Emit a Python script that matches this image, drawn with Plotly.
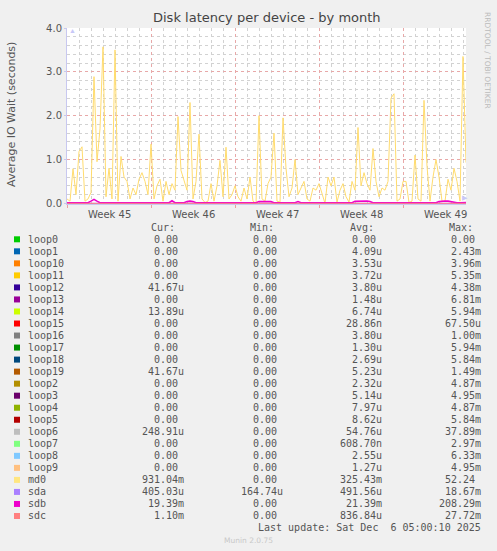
import pandas as pd
import plotly.graph_objects as go

## Munin "diskstats latency" month graph

# md0 and sdb, one reading every 6 hours from 2025-11-03 00:00
start = "2025-11-03 00:00"
md0 = [
    0.10, 0.05, 0.79, 0.20, 1.18, 1.29, 0.05, 0.10, 0.25, 2.89, 0.95, 1.70,
    3.57, 0.15, 0.80, 0.10, 3.50, 0.05, 1.07, 0.60, 0.50, 0.10, 0.35, 0.20,
    0.55, 0.70, 0.50, 0.20, 1.35, 0.10, 0.40, 0.55, 0.05, 0.50, 0.20, 0.45,
    0.30, 1.98, 0.75, 0.50, 0.30, 2.30, 0.10, 0.50, 1.58, 0.10, 0.02, 0.05,
    0.45, 0.05, 0.40, 0.98, 0.15, 1.28, 0.10, 0.20, 0.40, 0.15, 0.05, 0.35,
    0.10, 0.60, 0.05, 0.00, 2.00, 0.10, 0.05, 0.45, 0.60, 1.60, 0.05, 0.03,
    1.95, 0.80, 0.15, 0.35, 1.00, 0.20, 0.35, 0.50, 0.10, 0.05, 0.35, 0.30,
    0.45, 0.20, 0.00, 0.60, 0.40, 0.60, 0.03, 0.30, 0.45, 0.15, 0.03, 0.50,
    0.30, 1.73, 0.40, 0.70, 0.45, 0.30, 1.25, 0.50, 0.15, 0.35, 0.30, 0.50,
    2.40, 2.50, 0.05, 0.10, 0.50, 0.50, 0.02, 0.05, 1.10, 0.10, 0.05, 2.35,
    0.85, 0.05, 0.60, 1.00, 0.60, 0.05, 0.05, 0.55, 0.30, 0.80, 0.50, 0.05,
    3.35, 0.93,
]
sdb = [
    .015, .015, .015, .030, .015, .015, .015, .015, .050, .090, .050, .015,
    .015, .015, .015, .015, .015, .030, .015, .015, .030, .015, .015, .015,
    .015, .015, .015, .015, .015, .015, .015, .015, .015, .015, .015, .060,
    .015, .015, .015, .015, .040, .050, .040, .015, .015, .015, .015, .015,
    .015, .015, .015, .015, .015, .015, .015, .015, .015, .015, .015, .015,
    .030, .015, .015, .015, .040, .040, .035, .040, .040, .015, .015, .015,
    .030, .015, .015, .015, .015, .040, .015, .015, .015, .015, .015, .015,
    .015, .015, .015, .015, .015, .030, .015, .015, .030, .015, .015, .015,
    .045, .050, .050, .050, .055, .040, .015, .015, .015, .030, .015, .015,
    .015, .015, .015, .015, .015, .015, .015, .015, .015, .015, .015, .015,
    .015, .015, .015, .015, .040, .050, .055, .050, .040, .015, .015, .015,
    .015, .019,
]

# sda / sdc stay flat near zero, read once per week
week_dates = ["2025-11-03 00:00", "2025-11-10 00:00", "2025-11-17 00:00",
              "2025-11-24 00:00", "2025-12-01 00:00", "2025-12-06 06:00"]
sda = [0.0005, 0.0005, 0.0005, 0.0005, 0.0005, 0.0004]
sdc = [0.0008, 0.0008, 0.0009, 0.0008, 0.0008, 0.0011]

week_starts = ["2025-11-03", "2025-11-10", "2025-11-17", "2025-11-24", "2025-12-01"]
week_labels = ["Week 45", "Week 46", "Week 47", "Week 48", "Week 49"]

# legend table
names = ["loop0", "loop1", "loop10", "loop11", "loop12", "loop13", "loop14", "loop15",
         "loop16", "loop17", "loop18", "loop19", "loop2", "loop3", "loop4", "loop5",
         "loop6", "loop7", "loop8", "loop9", "md0", "sda", "sdb", "sdc"]
colors = ["#00CC00", "#0066B3", "#FF8000", "#FFCC00", "#330099", "#990099", "#CCFF00", "#FF0000",
          "#808080", "#008F00", "#00487D", "#B35A00", "#B38F00", "#6B006B", "#8FB300", "#B30000",
          "#BEBEBE", "#80FF80", "#80C9FF", "#FFC080", "#FFE680", "#AA80FF", "#EE00CC", "#FF8080"]
cur = ["0.00", "0.00", "0.00", "0.00", "41.67u", "0.00", "13.89u", "0.00",
       "0.00", "0.00", "0.00", "41.67u", "0.00", "0.00", "0.00", "0.00",
       "248.91u", "0.00", "0.00", "0.00", "931.04m", "405.03u", "19.39m", "1.10m"]
mins = ["0.00", "0.00", "0.00", "0.00", "0.00", "0.00", "0.00", "0.00",
        "0.00", "0.00", "0.00", "0.00", "0.00", "0.00", "0.00", "0.00",
        "0.00", "0.00", "0.00", "0.00", "0.00", "164.74u", "0.00", "0.00"]
avgs = ["0.00", "4.09u", "3.53u", "3.72u", "3.80u", "1.48u", "6.74u", "28.86n",
        "3.80u", "1.30u", "2.69u", "5.23u", "2.32u", "5.14u", "7.97u", "8.62u",
        "54.76u", "608.70n", "2.55u", "1.27u", "325.43m", "491.56u", "21.39m", "836.84u"]
maxs = ["0.00", "2.43m", "3.96m", "5.35m", "4.38m", "6.81m", "5.94m", "67.50u",
        "1.00m", "5.94m", "5.84m", "1.49m", "4.87m", "4.95m", "4.87m", "5.84m",
        "37.89m", "2.97m", "6.33m", "4.95m", "52.24", "18.67m", "208.29m", "27.72m"]

W, H = 497, 551
L, R, T, B = 67, 31, 28, 347
PW, PH = W - L - R, H - T - B

def px(p):
    return (p - L) / PW

def py(p):
    return (T + PH - p) / PH

MONO = "DejaVu Sans Mono"
SANS = "DejaVu Sans"
TXT = "#555555"

times = pd.date_range(start, periods=len(md0), freq="6h")
wtimes = pd.to_datetime(week_dates, format="%Y-%m-%d %H:%M")

fig = go.Figure()
fig.add_trace(go.Scatter(x=times, y=md0, mode="lines", line=dict(color="#FFDC6E", width=1)))
fig.add_trace(go.Scatter(x=wtimes, y=sda, mode="lines", line=dict(color="#AA80FF", width=1)))
fig.add_trace(go.Scatter(x=times, y=sdb, mode="lines", line=dict(color="#EE00CC", width=1.6)))
fig.add_trace(go.Scatter(x=wtimes, y=sdc, mode="lines", line=dict(color="#FF8080", width=1)))

annotations = []
shapes = []

# title, y label, side credit
annotations.append(dict(text="Disk latency per device - by month", xref="paper", yref="paper",
                        x=0.5, y=py(18), xanchor="center", yanchor="middle", showarrow=False,
                        font=dict(family=SANS, size=13, color="#444444")))
annotations.append(dict(text="Average IO Wait (seconds)", xref="paper", yref="paper",
                        x=px(12), y=py(115), textangle=-90, xanchor="center", yanchor="middle",
                        showarrow=False, font=dict(family=SANS, size=11, color=TXT)))
annotations.append(dict(text="RRDTOOL / TOBI OETIKER", xref="paper", yref="paper",
                        x=px(487), y=py(60), textangle=90, xanchor="center", yanchor="middle",
                        showarrow=False, font=dict(family=SANS, size=7.5, color="#BBBBBB")))

# axis arrows
annotations.append(dict(text="▲", xref="paper", yref="paper", x=px(67), y=py(24),
                        showarrow=False, font=dict(size=7, color="#C8C8F8")))
annotations.append(dict(text="▶", xref="paper", yref="paper", x=px(470), y=py(204),
                        showarrow=False, font=dict(size=7, color="#C8C8F8")))

# week labels centred on each week
for ws, lab in zip(week_starts, week_labels):
    mid = pd.Timestamp(ws) + pd.Timedelta(hours=84)
    annotations.append(dict(text=lab, xref="x", yref="paper", x=mid, y=0, yshift=-3,
                            xanchor="center", yanchor="top", showarrow=False,
                            font=dict(family=SANS, size=10, color=TXT)))

# legend table
def cell(v):
    return v if v[-1].isalpha() else v + "\u00a0"

head_y = 227.5
for lab, xx in zip(["Cur:", "Min:", "Avg:", "Max:"], [149, 248, 348, 447]):
    annotations.append(dict(text=lab, xref="paper", yref="paper", x=px(xx), y=py(head_y),
                            xanchor="left", yanchor="middle", showarrow=False,
                            font=dict(family=MONO, size=10, color=TXT)))

col_right = [185.5, 284.5, 383.5, 483]
for i, nm in enumerate(names):
    ry = 239.3 + 12.03 * i
    shapes.append(dict(type="rect", xref="paper", yref="paper",
                       x0=px(14), x1=px(20), y0=py(ry + 3), y1=py(ry - 3),
                       fillcolor=colors[i], line=dict(width=0)))
    annotations.append(dict(text=nm, xref="paper", yref="paper", x=px(26), y=py(ry),
                            xanchor="left", yanchor="middle", showarrow=False,
                            font=dict(family=MONO, size=10, color=TXT)))
    for col, xr in zip([cur, mins, avgs, maxs], col_right):
        annotations.append(dict(text=cell(col[i]), xref="paper", yref="paper", x=px(xr), y=py(ry),
                                xanchor="right", yanchor="middle", showarrow=False,
                                font=dict(family=MONO, size=10, color=TXT)))

annotations.append(dict(text="Last update: Sat Dec\u00a0\u00a06 05:00:10 2025", xref="paper", yref="paper",
                        x=px(483), y=py(527.7), xanchor="right", yanchor="middle", showarrow=False,
                        font=dict(family=MONO, size=10, color=TXT)))
annotations.append(dict(text="Munin 2.0.75", xref="paper", yref="paper",
                        x=px(248), y=py(540), xanchor="center", yanchor="middle", showarrow=False,
                        font=dict(family=SANS, size=7.5, color="#C8C8C8")))

fig.update_layout(
    width=W, height=H,
    margin=dict(l=L, r=R, t=T, b=B, pad=0),
    paper_bgcolor="#F0F0F0",
    plot_bgcolor="#FFFFFF",
    showlegend=False,
    hovermode=False,
    annotations=annotations,
    shapes=shapes,
    xaxis=dict(
        type="date",
        range=["2025-11-03 00:00", "2025-12-06 06:00"],
        tick0="2025-11-03", dtick=7 * 86400000,
        showticklabels=False,
        ticks="outside", ticklen=3, tickcolor="#E8A0A0",
        showgrid=True, gridcolor="#E8A8A8", griddash="dot", gridwidth=1,
        minor=dict(dtick=86400000, tick0="2025-11-03", showgrid=True,
                   gridcolor="#D2D2D2", griddash="dot", gridwidth=1),
        showline=True, linecolor="#C8C8F0", linewidth=1,
        zeroline=False, layer="below traces", fixedrange=True,
    ),
    yaxis=dict(
        range=[-0.015, 4.0],
        tick0=0, dtick=1, tickformat=".1f",
        tickfont=dict(family=SANS, size=10, color=TXT),
        ticks="outside", ticklen=2, tickcolor="#C8C8F0",
        showgrid=True, gridcolor="#E8A8A8", griddash="dot", gridwidth=1,
        minor=dict(dtick=0.2, tick0=0, showgrid=True,
                   gridcolor="#D2D2D2", griddash="dot", gridwidth=1),
        showline=True, linecolor="#C8C8F0", linewidth=1,
        zeroline=False, layer="below traces", fixedrange=True,
    ),
)

# page has a default 8px body margin; drop it so the figure sits at the corner
fig.write_html("out.html", config={"displayModeBar": False},
               post_script="document.body.style.margin='0';document.body.style.background='#F0F0F0';")
